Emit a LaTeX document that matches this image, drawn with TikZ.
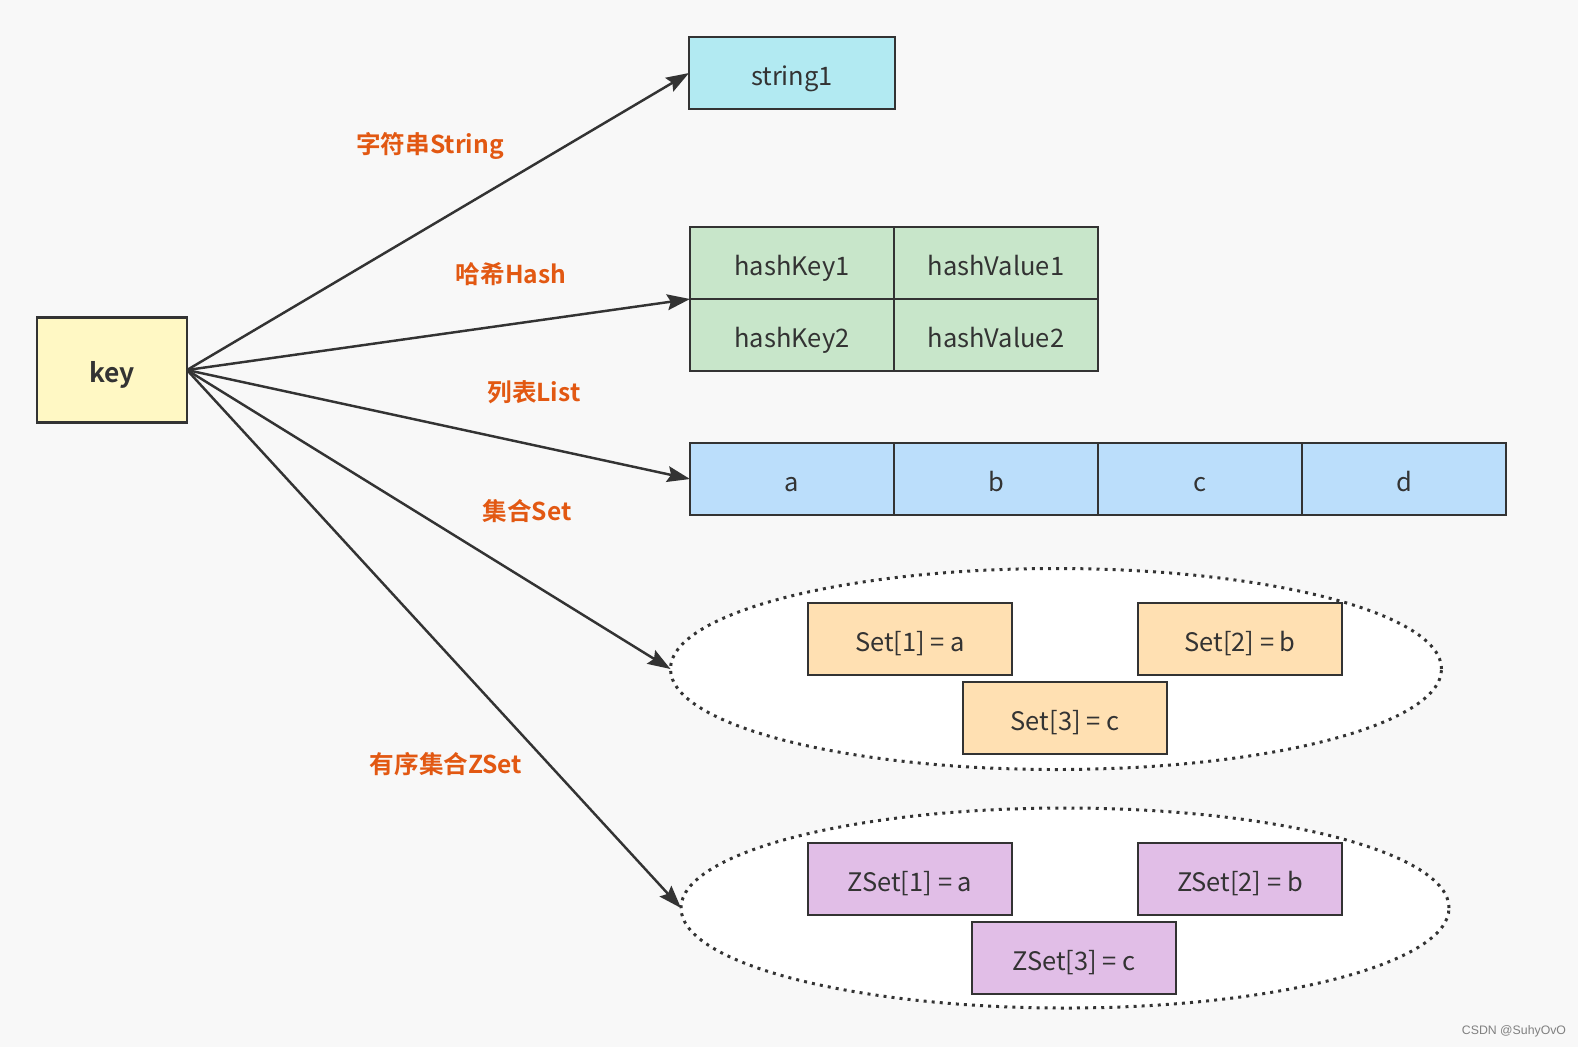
\documentclass[tikz,border=0pt]{standalone}
\usepackage{fontspec}
\setmainfont{Noto Sans CJK SC}
\newfontfamily\typefont{Noto Sans CJK SC Bold}
\newfontfamily\markfont{Liberation Sans}
\usepackage{tikz}
\usetikzlibrary{positioning, arrows.meta, shapes.geometric, calc}

\definecolor{edgegray}{HTML}{333333}
\definecolor{pagebg}{HTML}{F8F8F8}
\definecolor{keyfill}{HTML}{FFF8C4}
\definecolor{strfill}{HTML}{B2EAF2}
\definecolor{hashfill}{HTML}{C8E6CA}
\definecolor{listfill}{HTML}{BBDEFB}
\definecolor{setfill}{HTML}{FFE0B2}
\definecolor{zsetfill}{HTML}{E1BEE7}
\definecolor{typeorange}{RGB}{226,88,18}

\begin{document}
\begin{tikzpicture}[x=0.2mm, y=-0.2mm,
  cellbox/.style={draw=edgegray, line width=1.6pt, outer sep=0pt, inner sep=0pt,
    minimum width=40.8mm, minimum height=14.4mm, text=edgegray,
    text height=14.2pt, text depth=0pt,
    font=\fontsize{14.5}{17}\selectfont},
  bag/.style={ellipse, draw=edgegray, fill=white, line width=1.7pt,
    dash pattern=on 1.7pt off 2.9pt, inner sep=0pt, outer sep=0pt},
  typelabel/.style={text=typeorange, font=\typefont\fontsize{14}{17}\selectfont},
  link/.style={draw=edgegray, line width=1.4pt, -{Stealth[length=13pt, width=9pt, inset=2pt]}}]
  % page
  \fill[pagebg] (0,0) rectangle (1578,1047);
  \useasboundingbox (0,0) rectangle (1578,1047);

  % key
  \node[cellbox, fill=keyfill, minimum width=30mm, minimum height=21mm,
    font=\typefont\fontsize{15}{18}\selectfont] (key) at (112,370) {key};

  % string
  \node[cellbox, fill=strfill, minimum width=41.2mm] (str) at (792,73) {string1};

  % hash
  \node[cellbox, fill=hashfill] (hk1) at (792,263) {hashKey1};
  \node[cellbox, fill=hashfill, right=0pt of hk1] (hv1) {hashValue1};
  \node[cellbox, fill=hashfill, below=0pt of hk1] (hk2) {hashKey2};
  \node[cellbox, fill=hashfill, right=0pt of hk2] (hv2) {hashValue2};

  % list
  \node[cellbox, fill=listfill] (la) at (792,479) {a};
  \node[cellbox, fill=listfill, right=0pt of la] (lb) {b};
  \node[cellbox, fill=listfill, right=0pt of lb] (lc) {c};
  \node[cellbox, fill=listfill, right=0pt of lc] (ld) {d};

  % set
  \node[bag, minimum width=154.2mm, minimum height=40.2mm] (setbag) at (1056,669) {};
  \node[cellbox, fill=setfill] (s1) at (910,639) {Set[1] = a};
  \node[cellbox, fill=setfill] (s2) at (1240,639) {Set[2] = b};
  \node[cellbox, fill=setfill] (s3) at (1065,718) {Set[3] = c};

  % zset
  \node[bag, minimum width=153.6mm, minimum height=40mm] (zsetbag) at (1065,908) {};
  \node[cellbox, fill=zsetfill] (z1) at (910,879) {ZSet[1] = a};
  \node[cellbox, fill=zsetfill] (z2) at (1240,879) {ZSet[2] = b};
  \node[cellbox, fill=zsetfill] (z3) at (1074,958) {ZSet[3] = c};

  % links
  \draw[link] (key.east) -- (str.west);
  \draw[link] (key.east) -- (hk1.south west);
  \draw[link] (key.east) -- (la.west);
  \draw[link] (key.east) -- (setbag.west);
  \draw[link] (key.east) -- (zsetbag.west);

  % type names
  \node[typelabel] (tstr) at (430,146) {字符串String};
  \node[typelabel] (thash) at (511,274) {哈希Hash};
  \node[typelabel] (tlist) at (534,392) {列表List};
  \node[typelabel] (tset) at (527,511) {集合Set};
  \node[typelabel] (tzset) at (446,764) {有序集合ZSet};

  \node[text=gray, font=\markfont\fontsize{7}{8}\selectfont] (mark) at (1514,1031) {CSDN @SuhyOvO};
\end{tikzpicture}
\end{document}
